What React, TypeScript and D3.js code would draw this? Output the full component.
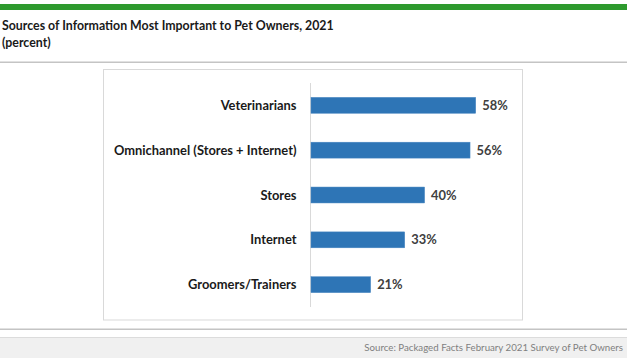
import React from "react";
import * as d3 from "d3";

const categories = [
  "Veterinarians",
  "Omnichannel (Stores + Internet)",
  "Stores",
  "Internet",
  "Groomers/Trainers",
];
const values = [58, 56, 40, 33, 21];
const titleLines = [
  "Sources of Information Most Important to Pet Owners, 2021",
  "(percent)",
];
const sourceText = "Source: Packaged Facts February 2021 Survey of Pet Owners";

const W = 627;
const H = 358;
const FONT = "Lato, 'Open Sans', sans-serif";

export default function App() {
  const x = d3.scaleLinear().domain([0, 100]).range([310.5, 310.5 + 284]);
  const y = d3
    .scaleBand<string>()
    .domain(categories)
    .range([83, 307])
    .paddingInner(0.645)
    .paddingOuter(0.32);
  const bh = y.bandwidth();

  return (
    <div style={{ position: "fixed", left: 0, top: 0 }}>
      <svg width={W} height={H} style={{ display: "block" }}>
        <rect x={0} y={0} width={W} height={H} fill="#ffffff" />
        <rect x={0} y={4} width={W} height={6} fill="#2e9a2e" />
        <text x={2} y={30} fontFamily={FONT} fontWeight={700} fontSize={12.35} fill="#1a1a1a">
          {titleLines[0]}
        </text>
        <text x={2} y={47} fontFamily={FONT} fontWeight={700} fontSize={12.35} fill="#1a1a1a">
          {titleLines[1]}
        </text>
        <rect x={0} y={61.5} width={W} height={1.5} fill="#c4c4c4" />

        <rect x={103.5} y={69.5} width={419} height={250.5} fill="#ffffff" stroke="#d9d9d9" strokeWidth={1} />

        <line x1={x(0)} x2={x(0)} y1={83} y2={307} stroke="#d9d9d9" strokeWidth={1} />

        {categories.map((c, i) => {
          const yy = y(c) as number;
          const cy = yy + bh / 2;
          return (
            <g key={c}>
              <rect x={x(0) + 0.5} y={yy} width={x(values[i]) - x(0)} height={bh} fill="#2e75b6" stroke="#4a88c2" strokeWidth={0.5} />
              <text
                x={296.5}
                y={cy}
                dy="0.35em"
                textAnchor="end"
                fontFamily={FONT}
                fontWeight={700}
                fontSize={12.9}
                fill="#1a1a1a"
              >
                {c}
              </text>
              <text
                x={x(values[i]) + 7}
                y={cy}
                dy="0.35em"
                fontFamily={FONT}
                fontWeight={700}
                fontSize={12.9}
                fill="#404040"
              >
                {values[i]}%
              </text>
            </g>
          );
        })}

        <rect x={0} y={328.5} width={W} height={1.5} fill="#c4c4c4" />
        <rect x={0} y={337} width={W} height={H - 337} fill="#f0f0f0" />
        <rect x={0} y={337} width={W} height={1} fill="#dcdcdc" />
        <text x={623} y={351} textAnchor="end" fontFamily={FONT} fontSize={9.7} fill="#7f7f7f">
          {sourceText}
        </text>
      </svg>
    </div>
  );
}
